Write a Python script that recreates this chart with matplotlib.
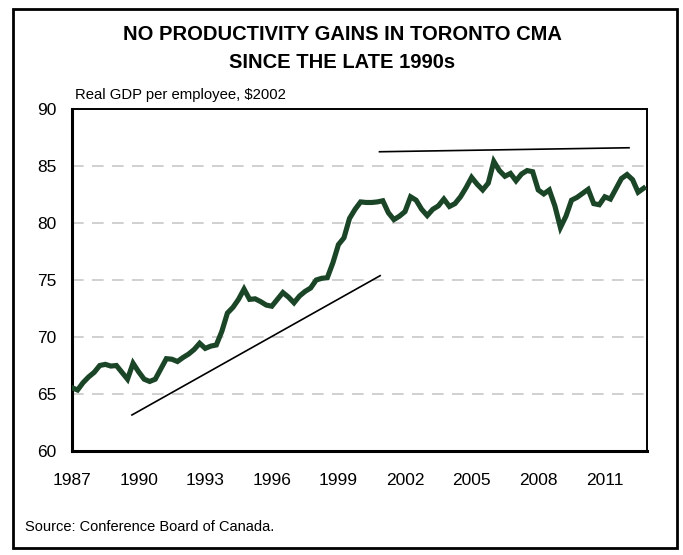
import matplotlib.pyplot as plt
import matplotlib.patches as patches
import numpy as np

plt.rcParams['font.family'] = ['Liberation Sans', 'DejaVu Sans']

# Real GDP per employee, Toronto CMA, quarterly from 1987Q1 ($2002, thousands)
start_year = 1987
gdp_per_employee = [
    65.55, 65.35, 66.0, 66.5, 66.9, 67.5, 67.6, 67.45,   # 1987-1988
    67.5, 66.9, 66.3, 67.7, 66.95, 66.3, 66.1, 66.3,     # 1989-1990
    67.2, 68.1, 68.05, 67.85, 68.2, 68.5, 68.9, 69.45,   # 1991-1992
    69.0, 69.2, 69.3, 70.5, 72.1, 72.6, 73.3, 74.2,      # 1993-1994
    73.3, 73.35, 73.1, 72.8, 72.7, 73.3, 73.9, 73.5,     # 1995-1996
    73.0, 73.6, 74.0, 74.3, 75.0, 75.15, 75.2, 76.5,     # 1997-1998
    78.1, 78.7, 80.4, 81.2, 81.85, 81.8, 81.8, 81.85,    # 1999-2000
    81.95, 80.9, 80.3, 80.6, 81.0, 82.3, 82.0, 81.2,     # 2001-2002
    80.65, 81.2, 81.5, 82.1, 81.45, 81.7, 82.3, 83.1,    # 2003-2004
    84.0, 83.4, 82.9, 83.5, 85.4, 84.6, 84.1, 84.35,     # 2005-2006
    83.7, 84.3, 84.6, 84.5, 82.9, 82.55, 82.9, 81.5,     # 2007-2008
    79.6, 80.6, 82.0, 82.25, 82.6, 82.95, 81.7, 81.6,    # 2009-2010
    82.3, 82.1, 83.0, 83.9, 84.25, 83.8, 82.7, 83.05,    # 2011-2012
]
quarters = start_year + np.arange(len(gdp_per_employee)) / 4

# hand-drawn trend lines: (x0, x1), (y0, y1)
trend_up_x = [1989.7, 2000.88]
trend_up_y = [63.16, 75.38]
trend_flat_x = [2000.85, 2012.09]
trend_flat_y = [86.25, 86.6]

year_ticks = [1987, 1990, 1993, 1996, 1999, 2002, 2005, 2008, 2011]
value_ticks = [60, 65, 70, 75, 80, 85, 90]

fig = plt.figure(figsize=(6.83, 5.55), dpi=100)
ax = fig.add_axes([72/683, 1-451/555, (647-72)/683, (451-109)/555])

ax.plot(quarters, gdp_per_employee, color='#1b4527', lw=3.7,
        solid_joinstyle='miter', zorder=3)
ax.plot(trend_up_x, trend_up_y, color='black', lw=1.2, zorder=4)
ax.plot(trend_flat_x, trend_flat_y, color='black', lw=1.2, zorder=4)

ax.set_xlim(start_year, 2012.9)
ax.set_ylim(60, 90)
ax.set_xticks(year_ticks)
ax.set_xticklabels([str(y) for y in year_ticks])
ax.set_yticks(value_ticks)
ax.tick_params(axis='both', length=0, labelsize=12.5)
ax.tick_params(axis='x', pad=16)
ax.tick_params(axis='y', pad=11)

for v in value_ticks[1:-1]:
    ax.axhline(v, color='#c8c8c8', lw=1.2, dashes=(7, 5), zorder=1)

ax.spines['left'].set_linewidth(2.2)
ax.spines['bottom'].set_linewidth(2.2)
ax.spines['top'].set_linewidth(1.4)
ax.spines['right'].set_linewidth(1.4)

fig.text(75/683, 1-95/555, 'Real GDP per employee, $2002', fontsize=10.7,
         ha='left', va='center')
fig.text(342/683, 1-35/555, 'NO PRODUCTIVITY GAINS IN TORONTO CMA',
         fontsize=14.5, fontweight='bold', ha='center', va='center')
fig.text(342/683, 1-63/555, 'SINCE THE LATE 1990s',
         fontsize=14.5, fontweight='bold', ha='center', va='center')
fig.text(25/683, 1-527/555, 'Source: Conference Board of Canada.',
         fontsize=10.5, ha='left', va='center')

# outer border
fig.patches.append(patches.Rectangle((13/683, 1-548/555), (677-13)/683,
                                     (548-9)/555, transform=fig.transFigure,
                                     fill=False, ec='black', lw=2))

fig.savefig('out.png', dpi=100)
